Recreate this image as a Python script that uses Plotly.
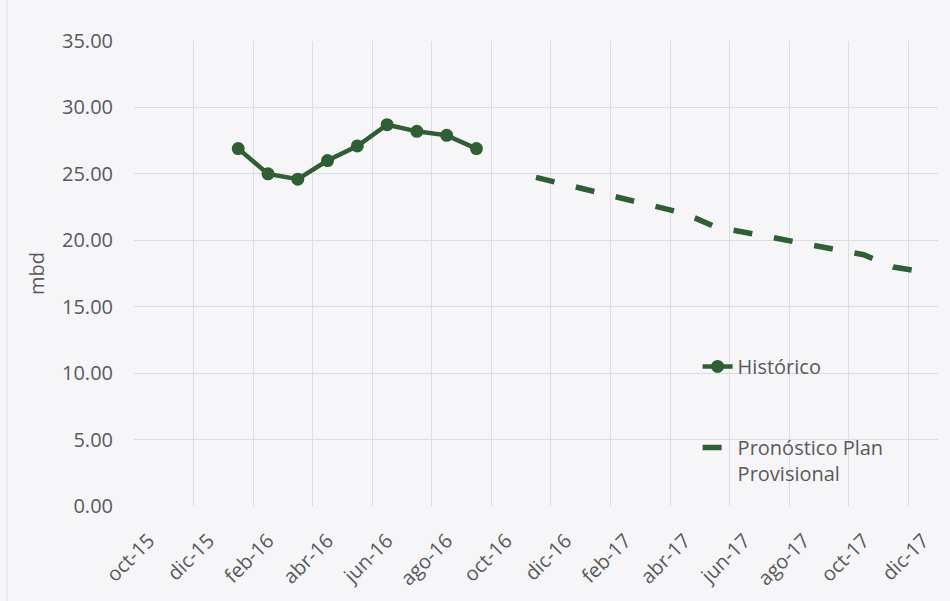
import plotly.graph_objects as go

# Monthly categories oct-15 .. dic-17
months = ["oct-15", "nov-15", "dic-15", "ene-16", "feb-16", "mar-16", "abr-16",
          "may-16", "jun-16", "jul-16", "ago-16", "sep-16", "oct-16", "nov-16",
          "dic-16", "ene-17", "feb-17", "mar-17", "abr-17", "may-17", "jun-17",
          "jul-17", "ago-17", "sep-17", "oct-17", "nov-17", "dic-17"]

hist_months = ["ene-16", "feb-16", "mar-16", "abr-16", "may-16", "jun-16",
               "jul-16", "ago-16", "sep-16"]
hist_values = [26.9, 25.0, 24.6, 26.0, 27.1, 28.7, 28.2, 27.9, 26.9]

fcst_months = ["nov-16", "dic-16", "ene-17", "feb-17", "mar-17", "abr-17",
               "may-17", "jun-17", "jul-17", "ago-17", "sep-17", "oct-17",
               "nov-17", "dic-17"]
fcst_values = [24.74, 24.19, 23.65, 23.10, 22.56, 22.01, 21.03, 20.59,
               20.16, 19.73, 19.29, 18.91, 17.99, 17.63]

tick_labels = months[::2]

GREEN = "#305e34"
TXT = "#595959"
GRID = "#dcdce5"
BG = "#f6f6f9"
FONT = "Open Sans"

fig = go.Figure()
fig.add_trace(go.Scatter(
    x=hist_months, y=hist_values, mode="lines+markers", name="Histórico",
    legendgroup="a",
    line=dict(color=GREEN, width=4.5),
    marker=dict(color=GREEN, size=13),
))
fig.add_trace(go.Scatter(
    x=fcst_months, y=fcst_values, mode="lines", name="Pronóstico Plan<br>Provisional",
    legendgroup="b",
    line=dict(color=GREEN, width=5.5, dash="19px,22px"),
))

fig.update_layout(
    width=950, height=601,
    margin=dict(l=134, r=12, t=41, b=95),
    paper_bgcolor=BG, plot_bgcolor=BG,
    font=dict(family=FONT, size=20, color=TXT),
    showlegend=True,
    legend=dict(
        x=0.701, y=0.342, xanchor="left", yanchor="top",
        bgcolor="rgba(0,0,0,0)", font=dict(size=20, color=TXT),
        valign="top", tracegroupgap=52, itemwidth=30,
    ),
    xaxis=dict(
        type="category", categoryorder="array", categoryarray=months,
        range=[-0.5, len(months) - 0.5],
        tickmode="array", tickvals=tick_labels, ticktext=tick_labels,
        tickson="boundaries", tickangle=-45,
        showgrid=True, gridcolor=GRID, gridwidth=1,
        showline=False, zeroline=False, ticks="",
        ticklabelstandoff=18, automargin=False,
        tickfont=dict(size=20, color=TXT),
    ),
    yaxis=dict(
        range=[0, 35], dtick=5, tick0=0, tickformat=".2f",
        showgrid=True, gridcolor=GRID, gridwidth=1,
        zeroline=False, showline=False, ticks="",
        ticklabelstandoff=20, automargin=False,
        tickfont=dict(size=20, color=TXT),
        title=dict(text="mbd", font=dict(size=20, color=TXT), standoff=12),
    ),
    shapes=[dict(type="line", xref="paper", yref="paper",
                 x0=-0.158, x1=-0.158, y0=-0.21, y1=1.09,
                 line=dict(color="#e0e0e8", width=1))],
)

fig.write_html("out.html")
